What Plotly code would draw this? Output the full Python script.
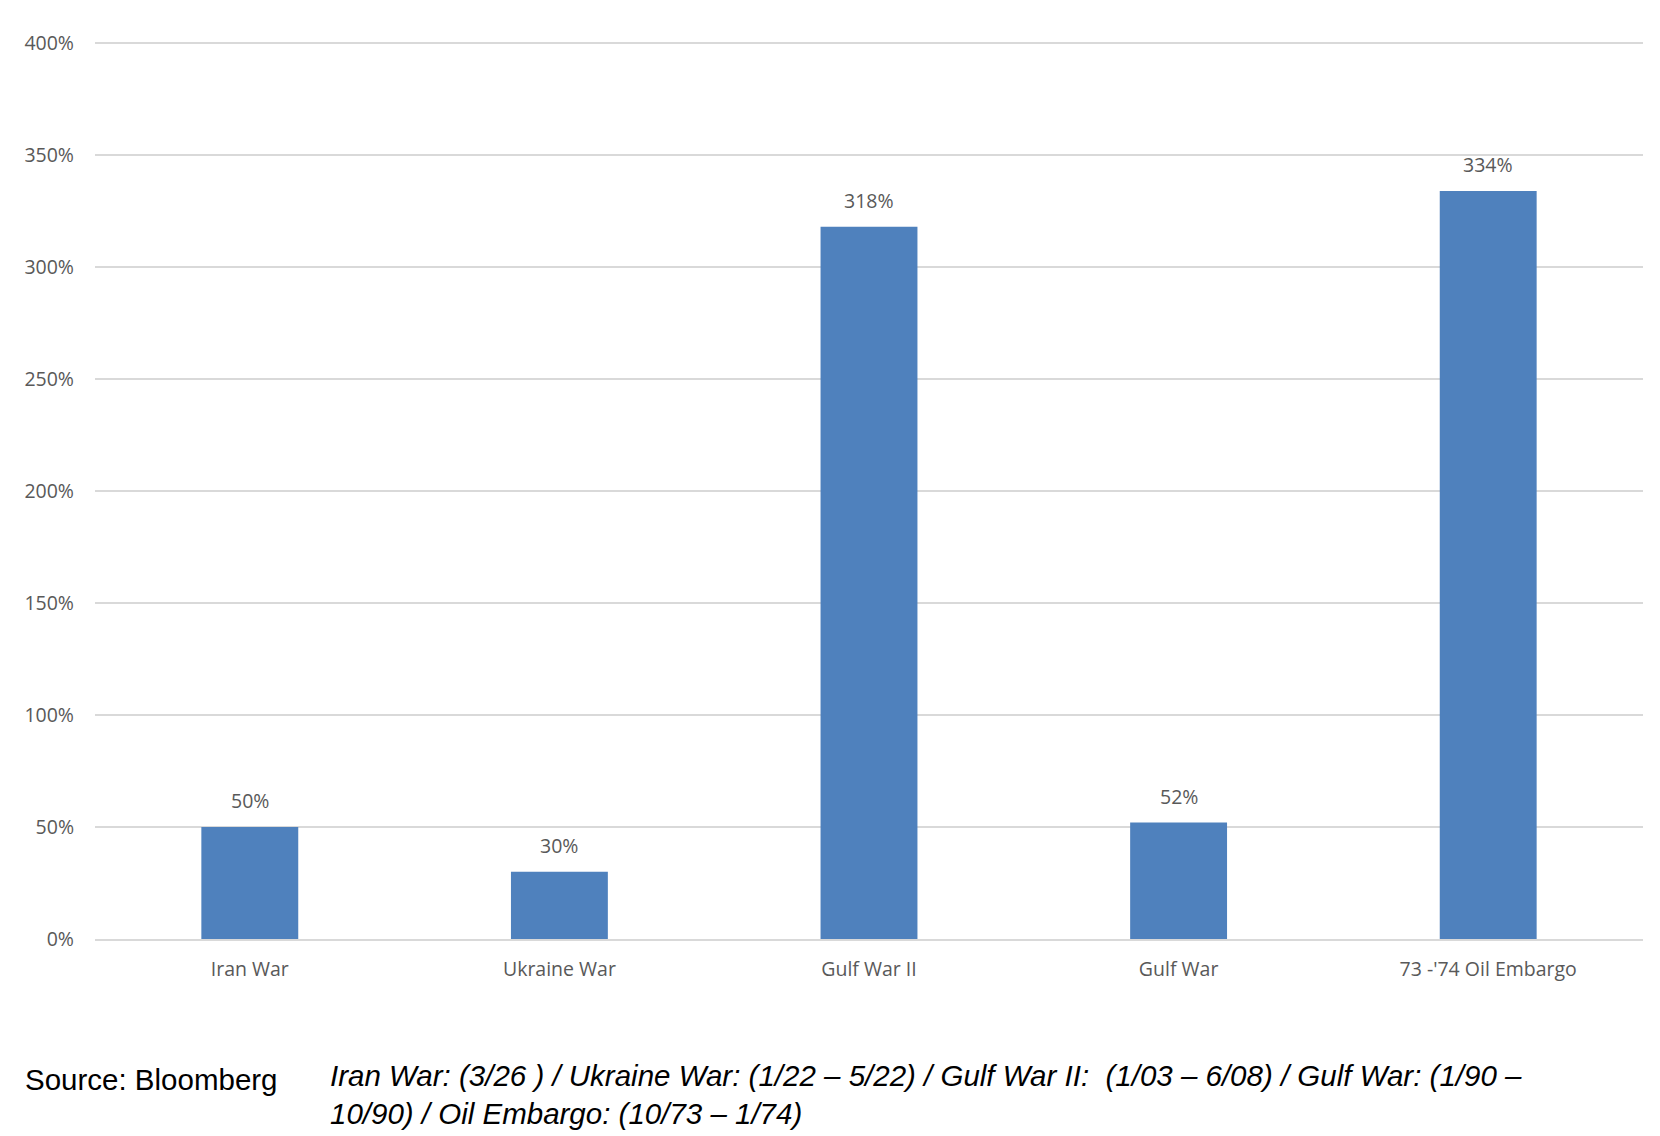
import plotly.graph_objects as go

categories = ["Iran War", "Ukraine War", "Gulf War II", "Gulf War", "73 -'74 Oil Embargo"]
values = [0.50, 0.30, 3.18, 0.52, 3.34]
value_labels = ["50%", "30%", "318%", "52%", "334%"]
y_ticks = [0, 0.5, 1.0, 1.5, 2.0, 2.5, 3.0, 3.5, 4.0]

axis_font = "Open Sans, Calibri, sans-serif"
note_font = "Liberation Sans, Arial, sans-serif"

fig = go.Figure()
fig.add_trace(go.Bar(
    x=categories, y=values,
    marker=dict(color="#4F81BD", line=dict(width=0)),
    width=0.313,
    hoverinfo="skip",
))

for c, v, t in zip(categories, values, value_labels):
    fig.add_annotation(x=c, y=v, text=t, showarrow=False, yanchor="bottom",
                       yshift=11, font=dict(family=axis_font, size=19.5, color="#595959"))

fig.add_annotation(xref="paper", yref="paper", x=-0.0465, y=-0.157, xanchor="left", yanchor="middle",
                   text="Source: Bloomberg", showarrow=False,
                   font=dict(family=note_font, size=29.5, color="#000000"))
fig.add_annotation(xref="paper", yref="paper", x=0.1506, y=-0.1728, xanchor="left", yanchor="middle",
                   align="left", showarrow=False,
                   text="<i>Iran War: (3/26 ) / Ukraine War: (1/22 \u2013 5/22) / Gulf War II:  (1/03 \u2013 6/08) / Gulf War: (1/90 \u2013<br>10/90) / Oil Embargo: (10/73 \u2013 1/74)</i>",
                   font=dict(family=note_font, size=29.5, color="#000000"))

fig.update_layout(
    width=1652, height=1128,
    margin=dict(l=87, r=17, t=34, b=197),
    paper_bgcolor="white", plot_bgcolor="white",
    showlegend=False,
    xaxis=dict(showgrid=False, showline=True, linecolor="#D9D9D9", linewidth=2,
               ticks="", tickfont=dict(family=axis_font, size=19.5, color="#595959"),
               ticklabelstandoff=12),
    yaxis=dict(range=[0, 4.005], tickvals=y_ticks, tickformat=".0%", showgrid=True,
               gridcolor="#D9D9D9", gridwidth=2, zeroline=False, showline=False,
               ticks="", tickfont=dict(family=axis_font, size=19.5, color="#595959"),
               ticklabelstandoff=20),
)

fig.write_html("out.html")
